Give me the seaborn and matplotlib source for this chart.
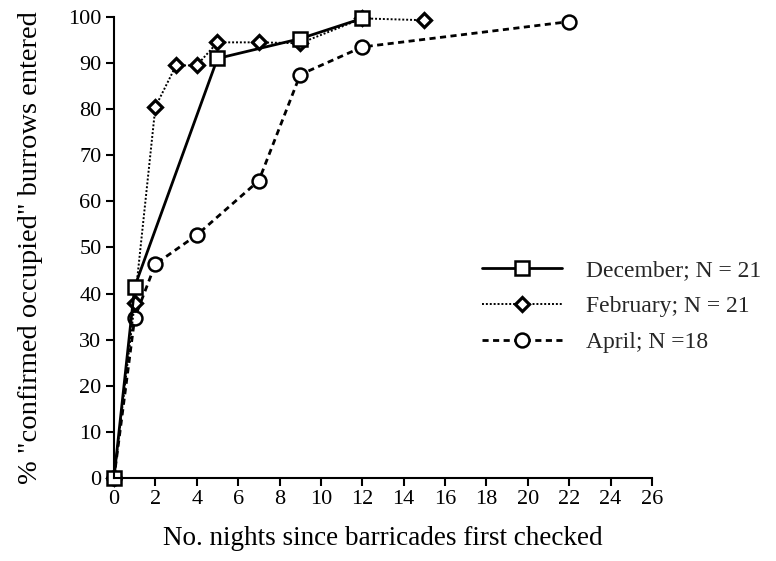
import matplotlib
matplotlib.use("Agg")
import matplotlib.pyplot as plt
import seaborn as sns
import pandas as pd

# Data
dec_x = [0, 1, 5, 9, 12]
dec_y = [0, 41.5, 91.0, 95.3, 99.7]
feb_x = [0, 1, 2, 3, 4, 5, 7, 9, 12, 15]
feb_y = [0, 38.0, 80.5, 89.5, 89.5, 94.5, 94.5, 94.3, 99.7, 99.3]
apr_x = [0, 1, 2, 4, 7, 9, 12, 22]
apr_y = [0, 34.7, 46.4, 52.7, 64.5, 87.5, 93.5, 99.0]
labels = ["December; N = 21", "February; N = 21", "April; N =18"]
x_ticks = list(range(0, 27, 2))
y_ticks = list(range(0, 101, 10))
x_label = "No. nights since barricades first checked"
y_label = '% "confirmed occupied" burrows entered'

sns.set_style("ticks")
plt.rcParams["font.family"] = ["Liberation Serif", "DejaVu Serif"]

fig = plt.figure(figsize=(7.76, 5.61), dpi=100)
ax = fig.add_axes([114 / 776, 1 - 478 / 561, (652 - 114) / 776, (478 - 17) / 561])

common = dict(color="black", markerfacecolor="white", markeredgecolor="black",
              clip_on=False)

h_apr = sns.lineplot(x=apr_x, y=apr_y, ax=ax, sort=False, linestyle=(0, (2.2, 1.6)),
                     linewidth=2.0, marker="o", markersize=10, markeredgewidth=1.8,
                     **common).lines[-1]
h_feb = sns.lineplot(x=feb_x, y=feb_y, ax=ax, sort=False, linestyle=(0, (1, 1)),
                     linewidth=1.4, marker="D", markersize=7.5, markeredgewidth=2.3,
                     **common).lines[-1]
h_dec = sns.lineplot(x=dec_x, y=dec_y, ax=ax, sort=False, linestyle="-",
                     linewidth=2.0, marker="s", markersize=10, markeredgewidth=1.8,
                     **common).lines[-1]

ax.set_xlim(0, 26)
ax.set_ylim(0, 100)
ax.set_xticks(x_ticks)
ax.set_yticks(y_ticks)
ax.tick_params(axis="both", direction="out", length=6, width=1.5, labelsize=16,
               colors="black", pad=3)
for s in ["top", "right"]:
    ax.spines[s].set_visible(False)
for s in ["left", "bottom"]:
    ax.spines[s].set_linewidth(1.5)
    ax.spines[s].set_color("black")

ax.set_xlabel(x_label, fontsize=19.5, labelpad=12, color="black")
ax.set_ylabel(y_label, fontsize=20.5, labelpad=18, color="black")

leg = fig.legend([h_dec, h_feb, h_apr], labels, loc="upper left",
                 bbox_to_anchor=(482 / 776, 1 - 260 / 561), frameon=False,
                 fontsize=17, handlelength=3.4, handletextpad=1.0,
                 labelspacing=0.6, borderpad=0, borderaxespad=0)

fig.savefig("out.png", dpi=100)
